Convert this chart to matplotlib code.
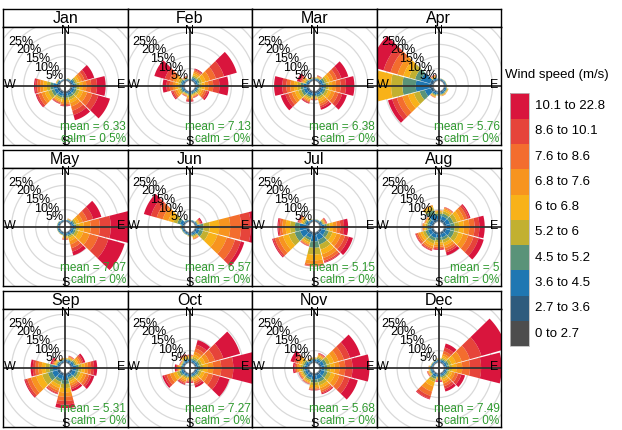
import numpy as np
import matplotlib.pyplot as plt
from matplotlib.patches import Polygon, Circle, Rectangle

plt.rcParams['font.family'] = ['Liberation Sans', 'DejaVu Sans']

months = ["Jan", "Feb", "Mar", "Apr", "May", "Jun",
          "Jul", "Aug", "Sep", "Oct", "Nov", "Dec"]
means = ["6.33", "7.13", "6.38", "5.76", "7.07", "6.57",
         "5.15", "5", "5.31", "7.27", "5.68", "7.49"]
calms = ["0.5%", "0%", "0%", "0%", "0%", "0%",
         "0%", "0%", "0%", "0%", "0%", "0%"]

speed_labels = ["0 to 2.7", "2.7 to 3.6", "3.6 to 4.5", "4.5 to 5.2", "5.2 to 6",
                "6 to 6.8", "6.8 to 7.6", "7.6 to 8.6", "8.6 to 10.1", "10.1 to 22.8"]
speed_colors = ["#4d4d4d", "#2e5b7d", "#1f77b2", "#5a9379", "#c2b030",
                "#f8b219", "#f7941f", "#f36d2e", "#e6443a", "#d9153d"]

directions = [0, 30, 60, 90, 120, 150, 180, 210, 240, 270, 300, 330]
grid_pcts = [5, 10, 15, 20, 25]

# % of hours per direction (rows) and speed bin (columns, slow -> fast)
jan = [[0.2, 0.2, 0.2, 0.1, 0, 0, 0, 0, 0, 0],
       [0.2, 0.3, 0.3, 0.2, 0.1, 0.1, 0, 0, 0, 0],
       [0.3, 0.5, 0.7, 0.6, 0.8, 0.9, 1.1, 1.2, 1.3, 2.8],
       [0.3, 0.6, 0.9, 0.8, 1.0, 1.3, 1.6, 2.0, 2.4, 3.6],
       [0.3, 0.6, 0.9, 0.9, 1.2, 1.5, 1.8, 2.2, 2.6, 5.0],
       [0.3, 0.6, 0.9, 0.9, 1.1, 1.3, 1.5, 1.8, 1.8, 2.3],
       [0.3, 0.7, 0.9, 0.8, 0.9, 0.9, 0.7, 0.5, 0.3, 0.2],
       [0.3, 0.8, 1.0, 0.7, 0.8, 0.7, 0.5, 0.3, 0.2, 0.2],
       [0.3, 0.9, 1.3, 1.2, 1.4, 1.5, 1.4, 1.3, 0.8, 0.4],
       [0.3, 1.0, 1.5, 1.2, 1.4, 1.5, 1.3, 1.2, 0.8, 0.5],
       [0.2, 0.4, 0.5, 0.3, 0.2, 0.2, 0.1, 0, 0, 0],
       [0.2, 0.2, 0.2, 0.1, 0, 0, 0, 0, 0, 0]]
feb = [[0.2, 0.2, 0.2, 0.1, 0.1, 0, 0, 0, 0, 0],
       [0.2, 0.4, 0.6, 0.6, 0.7, 0.8, 0.7, 0.6, 0.4, 0.3],
       [0.2, 0.4, 0.7, 0.8, 1.0, 1.5, 1.9, 2.5, 3.5, 5.5],
       [0.2, 0.4, 0.6, 0.7, 0.9, 1.2, 1.5, 2.0, 2.6, 3.7],
       [0.2, 0.4, 0.5, 0.5, 0.6, 0.8, 0.9, 0.9, 0.8, 0.6],
       [0.2, 0.3, 0.4, 0.4, 0.4, 0.4, 0.3, 0.3, 0.2, 0.1],
       [0.2, 0.3, 0.5, 0.4, 0.5, 0.6, 0.6, 0.5, 0.4, 0.3],
       [0.2, 0.3, 0.4, 0.3, 0.3, 0.3, 0.2, 0.2, 0.1, 0.1],
       [0.2, 0.4, 0.6, 0.5, 0.6, 0.8, 0.9, 0.8, 0.6, 0.4],
       [0.2, 0.4, 0.6, 0.6, 0.8, 1.0, 1.2, 1.3, 1.3, 1.6],
       [0.2, 0.4, 0.6, 0.6, 0.8, 1.0, 1.3, 1.6, 2.0, 4.5],
       [0.2, 0.3, 0.3, 0.3, 0.3, 0.2, 0.2, 0.1, 0.1, 0.1]]
mar = [[0.2, 0.3, 0.3, 0.2, 0.2, 0.1, 0.1, 0, 0, 0],
       [0.2, 0.3, 0.4, 0.3, 0.3, 0.3, 0.2, 0.2, 0.1, 0.1],
       [0.3, 0.5, 0.8, 0.8, 1.0, 1.2, 1.4, 1.6, 1.8, 3.0],
       [0.3, 0.6, 0.9, 0.9, 1.1, 1.4, 1.6, 1.9, 2.2, 3.5],
       [0.3, 0.6, 0.9, 0.9, 1.1, 1.3, 1.5, 1.6, 1.6, 2.0],
       [0.3, 0.6, 0.8, 0.8, 0.9, 1.0, 1.0, 0.9, 0.8, 0.9],
       [0.3, 0.6, 0.7, 0.5, 0.5, 0.4, 0.3, 0.2, 0.1, 0.1],
       [0.3, 0.7, 0.9, 0.7, 0.7, 0.6, 0.5, 0.4, 0.3, 0.3],
       [0.3, 0.8, 1.2, 1.1, 1.3, 1.4, 1.4, 1.4, 1.3, 2.0],
       [0.3, 0.8, 1.2, 1.1, 1.3, 1.5, 1.5, 1.6, 1.7, 3.4],
       [0.2, 0.4, 0.5, 0.4, 0.5, 0.5, 0.5, 0.5, 0.5, 1.2],
       [0.2, 0.3, 0.3, 0.2, 0.2, 0.1, 0.1, 0.1, 0, 0]]
apr = [[0.2, 0.3, 0.3, 0.1, 0, 0, 0, 0, 0, 0],
       [0.2, 0.3, 0.3, 0.1, 0.1, 0, 0, 0, 0, 0],
       [0.2, 0.3, 0.3, 0.2, 0.1, 0, 0, 0, 0, 0],
       [0.2, 0.3, 0.4, 0.2, 0.1, 0.1, 0, 0, 0, 0],
       [0.2, 0.4, 0.5, 0.3, 0.3, 0.2, 0.1, 0, 0, 0],
       [0.2, 0.4, 0.6, 0.3, 0.3, 0.2, 0.1, 0.1, 0, 0],
       [0.2, 0.4, 0.5, 0.3, 0.2, 0.1, 0.1, 0, 0, 0],
       [0.2, 0.5, 0.7, 0.4, 0.4, 0.3, 0.2, 0.1, 0.1, 0],
       [0.3, 1.0, 2.5, 2.2, 2.5, 2.5, 2.4, 2.4, 2.0, 1.8],
       [0.3, 1.5, 5.5, 5.5, 4.7, 6.0, 1.5, 0.5, 0.2, 0.1],
       [0.3, 1.2, 4.0, 2.5, 2.5, 2.5, 2.5, 3.0, 3.0, 6.0],
       [0.2, 0.4, 0.6, 0.3, 0.3, 0.3, 0.2, 0.2, 0.1, 0.1]]
may = [[0.2, 0.3, 0.2, 0, 0, 0, 0, 0, 0, 0],
       [0.2, 0.3, 0.3, 0.2, 0.2, 0.1, 0.1, 0.1, 0, 0],
       [0.2, 0.4, 0.6, 0.6, 0.8, 1.2, 1.5, 2.0, 2.5, 3.5],
       [0.2, 0.5, 0.8, 0.8, 1.2, 2.0, 2.8, 3.8, 4.5, 8.0],
       [0.2, 0.5, 0.8, 0.8, 1.2, 2.0, 2.8, 3.6, 4.4, 7.0],
       [0.2, 0.4, 0.6, 0.6, 0.8, 1.2, 1.5, 1.6, 1.5, 1.6],
       [0.2, 0.4, 0.5, 0.4, 0.4, 0.4, 0.3, 0.2, 0.2, 0.1],
       [0.2, 0.4, 0.4, 0.2, 0.1, 0.1, 0, 0, 0, 0],
       [0.2, 0.4, 0.4, 0.2, 0.1, 0, 0, 0, 0, 0],
       [0.2, 0.4, 0.4, 0.2, 0.1, 0, 0, 0, 0, 0],
       [0.2, 0.4, 0.4, 0.2, 0.1, 0, 0, 0, 0, 0],
       [0.2, 0.3, 0.3, 0.1, 0, 0, 0, 0, 0, 0]]
jun = [[0.2, 0.3, 0.2, 0, 0, 0, 0, 0, 0, 0],
       [0.2, 0.3, 0.2, 0.1, 0, 0, 0, 0, 0, 0],
       [0.2, 0.3, 0.4, 0.3, 0.3, 0.3, 0.3, 0.3, 0.4, 0.5],
       [0.2, 0.6, 1.2, 1.5, 2.5, 4.0, 4.5, 4.5, 4.0, 4.0],
       [0.2, 0.6, 1.2, 1.5, 2.4, 3.8, 4.0, 3.5, 2.5, 1.5],
       [0.2, 0.4, 0.6, 0.5, 0.5, 0.4, 0.3, 0.2, 0.1, 0],
       [0.2, 0.4, 0.5, 0.3, 0.2, 0.1, 0, 0, 0, 0],
       [0.2, 0.4, 0.4, 0.2, 0.1, 0, 0, 0, 0, 0],
       [0.2, 0.4, 0.4, 0.2, 0.1, 0, 0, 0, 0, 0],
       [0.2, 0.4, 0.5, 0.3, 0.2, 0.1, 0, 0, 0, 0],
       [0.2, 0.6, 1.2, 1.2, 1.6, 2.2, 2.4, 2.6, 2.5, 3.0],
       [0.2, 0.3, 0.3, 0.2, 0.1, 0, 0, 0, 0, 0]]
jul = [[0.2, 0.3, 0.3, 0.1, 0, 0, 0, 0, 0, 0],
       [0.2, 0.3, 0.3, 0.2, 0.1, 0, 0, 0, 0, 0],
       [0.2, 0.4, 0.6, 0.4, 0.4, 0.3, 0.3, 0.3, 0.2, 0.2],
       [0.2, 0.6, 1.2, 1.0, 1.2, 1.4, 1.5, 1.5, 1.5, 1.7],
       [0.2, 0.8, 1.6, 1.4, 1.6, 1.8, 1.8, 1.8, 1.6, 1.8],
       [0.2, 0.9, 2.2, 2.0, 2.2, 2.0, 1.6, 1.2, 0.6, 0.3],
       [0.2, 1.0, 2.6, 2.6, 2.8, 2.4, 1.5, 0.7, 0.2, 0.1],
       [0.2, 0.8, 1.5, 1.0, 0.9, 0.7, 0.4, 0.3, 0.2, 0.1],
       [0.2, 1.0, 2.6, 2.4, 2.6, 2.4, 2.0, 1.5, 0.8, 0.4],
       [0.2, 1.0, 2.6, 2.0, 2.0, 1.8, 1.4, 1.0, 0.6, 0.4],
       [0.2, 0.5, 0.9, 0.6, 0.6, 0.6, 0.5, 0.4, 0.3, 0.3],
       [0.2, 0.3, 0.4, 0.2, 0.1, 0.1, 0, 0, 0, 0]]
aug = [[0.2, 0.8, 1.4, 0.9, 0.7, 0.4, 0.2, 0.1, 0, 0],
       [0.2, 0.8, 1.5, 1.1, 1.0, 0.8, 0.5, 0.3, 0.1, 0.1],
       [0.2, 0.8, 1.6, 1.4, 1.6, 1.6, 1.5, 1.3, 0.9, 0.5],
       [0.2, 0.8, 1.8, 1.6, 1.8, 2.0, 2.2, 2.2, 2.0, 2.2],
       [0.2, 0.8, 1.8, 1.6, 1.8, 2.0, 2.2, 2.3, 2.2, 2.2],
       [0.2, 0.7, 1.4, 1.1, 1.2, 1.2, 1.1, 1.0, 0.8, 1.3],
       [0.2, 0.7, 1.3, 1.0, 1.0, 1.0, 0.8, 0.6, 0.4, 0.3],
       [0.2, 0.8, 1.5, 1.2, 1.2, 1.1, 0.9, 0.6, 0.4, 0.2],
       [0.2, 0.8, 1.4, 1.1, 1.1, 1.1, 0.9, 0.7, 0.4, 0.2],
       [0.2, 0.6, 1.0, 0.8, 0.7, 0.6, 0.4, 0.2, 0.1, 0],
       [0.2, 0.6, 1.0, 0.7, 0.6, 0.4, 0.3, 0.1, 0.1, 0],
       [0.2, 1.0, 2.2, 1.6, 1.2, 0.7, 0.3, 0.1, 0, 0]]
sep = [[0.2, 0.4, 0.5, 0.3, 0.3, 0.2, 0.1, 0, 0, 0],
       [0.2, 0.4, 0.6, 0.4, 0.4, 0.4, 0.3, 0.2, 0.1, 0.1],
       [0.2, 0.5, 0.8, 0.6, 0.7, 0.7, 0.8, 0.7, 0.6, 0.8],
       [0.2, 0.7, 1.4, 1.1, 1.2, 1.3, 1.3, 1.3, 1.2, 1.3],
       [0.2, 0.7, 1.4, 1.0, 1.1, 1.2, 1.2, 1.2, 1.0, 1.2],
       [0.2, 0.6, 1.0, 0.8, 0.9, 0.9, 0.9, 0.8, 0.8, 1.0],
       [0.2, 0.9, 1.8, 1.5, 1.7, 1.8, 1.8, 1.7, 1.5, 1.5],
       [0.2, 0.8, 1.6, 1.2, 1.3, 1.3, 1.1, 0.9, 0.5, 0.2],
       [0.2, 1.0, 2.2, 1.8, 2.5, 2.6, 2.2, 1.6, 0.9, 0.4],
       [0.2, 0.9, 1.8, 1.4, 1.6, 1.6, 1.4, 1.3, 1.0, 0.9],
       [0.2, 0.4, 0.6, 0.4, 0.4, 0.4, 0.4, 0.4, 0.4, 0.6],
       [0.2, 0.4, 0.4, 0.3, 0.3, 0.2, 0.1, 0.1, 0, 0]]
oct_ = [[0.2, 0.4, 0.6, 0.5, 0.5, 0.4, 0.3, 0.2, 0.1, 0.1],
        [0.2, 0.4, 0.6, 0.6, 0.8, 1.0, 1.2, 1.4, 1.6, 2.0],
        [0.2, 0.4, 0.7, 0.7, 1.0, 1.4, 1.8, 2.4, 3.6, 7.2],
        [0.2, 0.4, 0.7, 0.8, 1.2, 1.8, 2.4, 3.3, 5.0, 9.0],
        [0.2, 0.4, 0.6, 0.7, 1.0, 1.3, 1.6, 2.0, 2.8, 4.2],
        [0.2, 0.4, 0.6, 0.5, 0.6, 0.7, 0.7, 0.8, 0.8, 0.9],
        [0.2, 0.4, 0.5, 0.4, 0.5, 0.5, 0.5, 0.4, 0.3, 0.3],
        [0.2, 0.4, 0.6, 0.5, 0.6, 0.7, 0.7, 0.6, 0.4, 0.3],
        [0.2, 0.5, 0.8, 0.8, 1.1, 1.4, 1.5, 1.4, 1.1, 0.8],
        [0.2, 0.4, 0.5, 0.4, 0.4, 0.4, 0.4, 0.4, 0.4, 0.5],
        [0.2, 0.4, 0.4, 0.3, 0.3, 0.2, 0.2, 0.1, 0.1, 0.1],
        [0.2, 0.4, 0.6, 0.5, 0.5, 0.5, 0.4, 0.3, 0.2, 0.2]]
nov = [[0.2, 0.4, 0.6, 0.4, 0.3, 0.2, 0.1, 0, 0, 0],
       [0.2, 0.5, 0.8, 0.6, 0.6, 0.5, 0.4, 0.3, 0.2, 0.2],
       [0.2, 0.6, 1.2, 1.1, 1.4, 1.7, 2.0, 2.3, 2.6, 4.5],
       [0.2, 0.6, 1.2, 1.1, 1.4, 1.7, 2.0, 2.4, 3.0, 7.0],
       [0.2, 0.7, 1.4, 1.2, 1.5, 1.7, 1.9, 2.1, 2.3, 3.5],
       [0.2, 0.8, 1.6, 1.3, 1.3, 1.2, 1.0, 0.8, 0.5, 0.4],
       [0.2, 0.8, 1.6, 1.2, 1.1, 0.9, 0.6, 0.4, 0.2, 0.1],
       [0.2, 0.7, 1.2, 0.8, 0.7, 0.5, 0.3, 0.2, 0.1, 0.1],
       [0.2, 0.6, 1.0, 0.7, 0.6, 0.5, 0.4, 0.3, 0.2, 0.1],
       [0.2, 0.6, 1.0, 0.8, 0.8, 0.8, 0.7, 0.6, 0.5, 0.6],
       [0.2, 0.5, 0.9, 0.7, 0.8, 0.8, 0.8, 0.8, 0.9, 1.6],
       [0.2, 0.4, 0.5, 0.3, 0.3, 0.2, 0.1, 0.1, 0, 0]]
dec = [[0.2, 0.4, 0.5, 0.3, 0.2, 0.1, 0.1, 0, 0, 0],
       [0.2, 0.4, 0.6, 0.5, 0.6, 0.7, 0.9, 1.2, 1.5, 1.7],
       [0.2, 0.4, 0.7, 0.8, 1.2, 1.8, 2.5, 3.5, 5.0, 11.0],
       [0.2, 0.4, 0.7, 0.8, 1.2, 1.8, 2.4, 3.2, 4.6, 8.5],
       [0.2, 0.4, 0.6, 0.6, 0.8, 1.0, 1.2, 1.3, 1.4, 1.6],
       [0.2, 0.4, 0.6, 0.6, 0.8, 0.9, 1.0, 1.1, 1.1, 1.2],
       [0.2, 0.4, 0.5, 0.4, 0.4, 0.4, 0.4, 0.3, 0.3, 0.3],
       [0.2, 0.5, 0.9, 0.9, 1.3, 1.9, 2.2, 1.9, 1.2, 0.3],
       [0.2, 0.4, 0.5, 0.4, 0.4, 0.3, 0.3, 0.2, 0.1, 0.1],
       [0.2, 0.4, 0.5, 0.3, 0.2, 0.2, 0.1, 0.1, 0, 0],
       [0.2, 0.3, 0.4, 0.2, 0.1, 0.1, 0, 0, 0, 0],
       [0.2, 0.3, 0.4, 0.2, 0.1, 0, 0, 0, 0, 0]]
month_data = [jan, feb, mar, apr, may, jun, jul, aug, sep, oct_, nov, dec]

# ---- layout (pixels) ----
W, H = 622, 430
PX = 2.42          # pixels per percent
OFFSET = 2.2       # centre hole, in percent
SECTOR = 30
GAP = 0.8          # degrees trimmed from each side of a wedge
col_x = [3, 127.5, 252, 376.5]
col_w = 124.5
row_y = [9, 150, 291]
strip_h = 18
panel_h = 118
green = "#2f9a2f"

fig = plt.figure(figsize=(W / 100, H / 100), dpi=100)


def px_axes(x, y, w, h):
    return fig.add_axes([x / W, 1 - (y + h) / H, w / W, h / H])


def wedge(ax, d, r0, r1, color):
    th = np.radians(np.linspace(d - SECTOR / 2 + GAP, d + SECTOR / 2 - GAP, 25))
    xs = np.concatenate([r1 * np.sin(th), r0 * np.sin(th[::-1])])
    ys = np.concatenate([r1 * np.cos(th), r0 * np.cos(th[::-1])])
    ax.add_patch(Polygon(np.column_stack([xs, ys]), closed=True,
                         facecolor=color, edgecolor="none", zorder=2))


for i, m in enumerate(months):
    r, c = divmod(i, 4)
    x0, y0 = col_x[c], row_y[r]

    # strip with month name
    sa = px_axes(x0, y0, col_w, strip_h)
    sa.set_xticks([]); sa.set_yticks([])
    for s in sa.spines.values():
        s.set_linewidth(1.0)
    sa.text(0.5, 0.45, m, ha="center", va="center", fontsize=11.5, transform=sa.transAxes)

    ax = px_axes(x0, y0 + strip_h, col_w, panel_h)
    ax.set_xticks([]); ax.set_yticks([])
    for s in ax.spines.values():
        s.set_linewidth(1.0)
        s.set_zorder(10)
    xl = col_w / 2 / PX
    yl = panel_h / 2 / PX
    ax.set_xlim(-xl, xl)
    ax.set_ylim(-yl, yl)

    # grid rings
    for k in range(0, 9):
        ax.add_patch(Circle((0, 0), OFFSET + 5 * k, fill=False,
                            edgecolor="#d9d9d9", lw=0.9, zorder=1))

    # stacked wedges
    data = np.array(month_data[i], dtype=float)
    for j, d in enumerate(directions):
        cum = OFFSET + np.concatenate([[0], np.cumsum(data[j])])
        for b in range(len(speed_colors)):
            if data[j, b] > 0:
                wedge(ax, d, cum[b], cum[b + 1], speed_colors[b])

    # axes cross
    ax.axhline(0, color="#333333", lw=1.3, zorder=3)
    ax.axvline(0, color="#333333", lw=1.3, zorder=3)

    # ring labels along 315 degrees
    for g in grid_pcts:
        rr = OFFSET + g
        ax.text(rr * np.sin(np.radians(315)) + 0.8, rr * np.cos(np.radians(315)) - 1.0,
                f"{g}%", ha="center", va="center", fontsize=9, zorder=5)

    R = 23.0
    for lab, (lx, ly) in zip("NESW", [(0, R - 0.3), (R, 0.3), (0, -R), (-R, 0.3)]):
        ax.text(lx, ly, lab, ha="center", va="center", fontsize=9, zorder=5,
                clip_on=False)

    ax.text(xl - 0.6, -yl + 7.3, f"mean = {means[i]}", ha="right", va="center",
            fontsize=8.5, color=green, zorder=6)
    ax.text(xl - 0.6, -yl + 0.1, f"calm = {calms[i]}", ha="right", va="bottom",
            fontsize=8.5, color=green, zorder=6)

# ---- legend ----
fig.text(505 / W, 1 - 75 / H, "Wind speed (m/s)", ha="left", va="center", fontsize=9.5)
box_top, box_h = 93.3, 25.3
for k in range(len(speed_colors)):
    idx = len(speed_colors) - 1 - k
    y = box_top + k * box_h
    fig.patches.append(Rectangle((510 / W, 1 - (y + box_h) / H), 19 / W, box_h / H,
                                 transform=fig.transFigure, facecolor=speed_colors[idx],
                                 edgecolor="none"))
    fig.text(535 / W, 1 - (y + box_h / 2) / H, speed_labels[idx],
             ha="left", va="center", fontsize=9.5)
fig.patches.append(Rectangle((510 / W, 1 - (box_top + 10 * box_h) / H), 19 / W,
                             10 * box_h / H, transform=fig.transFigure,
                             facecolor="none", edgecolor="#bbbbbb", lw=0.6))

fig.savefig("out.png", dpi=100)
